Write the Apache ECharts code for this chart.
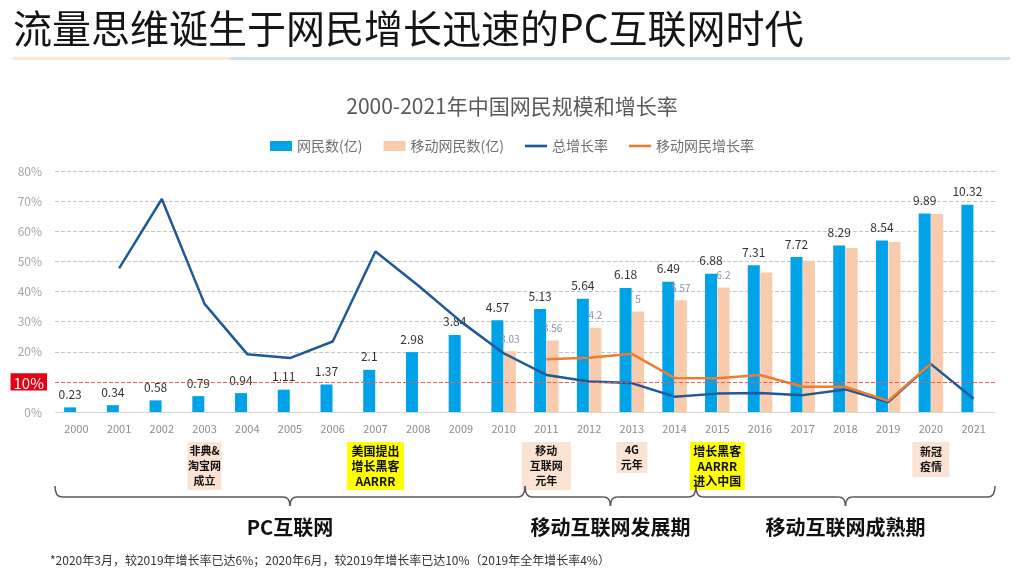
<!DOCTYPE html>
<html>
<head>
<meta charset="utf-8">
<script src="https://cdn.jsdelivr.net/npm/echarts@6/dist/echarts.min.js"></script>
<style>html,body{margin:0;padding:0;background:#fff}#c{width:1024px;height:576px}</style>
</head>
<body>
<div id="c"></div>
<script>
// ---------------- data ----------------
const years = ['2000','2001','2002','2003','2004','2005','2006','2007','2008','2009','2010','2011','2012','2013','2014','2015','2016','2017','2018','2019','2020','2021'];
const netizens = [0.23,0.34,0.58,0.79,0.94,1.11,1.37,2.1,2.98,3.84,4.57,5.13,5.64,6.18,6.49,6.88,7.31,7.72,8.29,8.54,9.89,10.32];
const mobileUsers = [null,null,null,null,null,null,null,null,null,null,3.03,3.56,4.2,5,5.57,6.2,6.95,7.53,8.17,8.47,9.86,null];
const mobileLabelLast = '2015';
const totalGrowth = [null,47.7,70.7,35.9,19.2,17.9,23.4,53.3,42.0,30.0,19.5,12.3,10.1,9.6,5.1,6.1,6.3,5.6,7.5,3.3,15.9,4.4];
const mobileGrowth = [null,null,null,null,null,null,null,null,null,null,null,17.5,18.0,19.3,11.3,11.2,12.3,8.4,8.4,3.7,16.0,null];
const seriesNames = ['网民数(亿)','移动网民数(亿)','总增长率','移动网民增长率'];
const events = [
  {year:'2003', text:'非典&\n淘宝网\n成立', kind:'peach'},
  {year:'2007', text:'美国提出\n增长黑客\nAARRR', kind:'yellow'},
  {year:'2011', text:'移动\n互联网\n元年', kind:'peach'},
  {year:'2013', text:'4G\n元年', kind:'peach'},
  {year:'2015', text:'增长黑客\nAARRR\n进入中国', kind:'yellow'},
  {year:'2020', text:'新冠\n疫情', kind:'peach'}
];
const phases = [
  {name:'PC互联网', from:'2000', to:'2010'},
  {name:'移动互联网发展期', from:'2011', to:'2014'},
  {name:'移动互联网成熟期', from:'2015', to:'2021'}
];
const pageTitle = '流量思维诞生于网民增长迅速的PC互联网时代';
const chartTitle = '2000-2021年中国网民规模和增长率';
const footnote = '*2020年3月，较2019年增长率已达6%；2020年6月，较2019年增长率已达10%（2019年全年增长率4%）';

// ---------------- layout / style ----------------
const FONT = "'Noto Sans CJK SC','Noto Sans',sans-serif";
const boxW = [34,57,49,31,55,37];
const boxH = [48,48,48,31,48,35];
const boxFill = {peach:'#fbe3d3', yellow:'#ffff00'};
const boxFont = {peach:11, yellow:12};
const lineIcon = 'path://M0,0H20V2.4H0Z';

const chart = echarts.init(document.getElementById('c'));
chart.setOption({
  animation:false,
  textStyle:{fontFamily:FONT},
  title:{text:chartTitle, left:'center', top:91, textStyle:{fontSize:21, fontWeight:'normal', color:'#595959', fontFamily:FONT}},
  legend:{
    top:134, left:'center', itemWidth:22, itemHeight:10, itemGap:21,
    textStyle:{color:'#707070', fontSize:14, fontFamily:FONT},
    data:[{name:seriesNames[0], icon:'rect'},{name:seriesNames[1], icon:'rect'},
          {name:seriesNames[2], icon:lineIcon},{name:seriesNames[3], icon:lineIcon}]
  },
  grid:{left:55, right:29, top:171, bottom:164},
  xAxis:[{
    type:'category', data:years,
    axisLine:{lineStyle:{color:'#d9d9d9'}}, axisTick:{show:false},
    axisLabel:{color:'#8c8c8c', fontSize:11, margin:11}
  }],
  yAxis:[{
    type:'value', min:0, max:80, interval:10,
    axisLine:{show:false}, axisTick:{show:false},
    splitLine:{lineStyle:{type:'dashed', color:'#c4c4c4'}},
    axisLabel:{
      margin:8,
      formatter:v => v === 10 ? '{r|10%}' : '{n|' + v + '%}',
      rich:{
        n:{fontSize:12, color:'#a6a6a6', padding:[0,5,0,0], fontFamily:FONT},
        r:{fontSize:15, color:'#fff', backgroundColor:'#e50012', padding:[2,3,0,3], fontFamily:FONT}
      }
    }
  },{
    type:'value', min:0, max:12, show:false, splitLine:{show:false}
  }],
  series:[{
    name:seriesNames[0], type:'bar', yAxisIndex:1, data:netizens,
    barWidth:12, barGap:'4%',
    itemStyle:{color:'#00a2e8'},
    label:{show:true, position:'top', distance:7, fontSize:12, color:'#333'}
  },{
    name:seriesNames[1], type:'bar', yAxisIndex:1, data:mobileUsers,
    barWidth:12, barGap:'4%',
    itemStyle:{color:'#f8cbad'},
    label:{show:true, position:'top', distance:7, fontSize:10, color:'#8a8fa6',
      formatter:p => (p.dataIndex <= years.indexOf(mobileLabelLast) ? String(p.value) : '')}
  },{
    name:seriesNames[2], type:'line', yAxisIndex:0, data:totalGrowth,
    symbol:'none', lineStyle:{color:'#1f5a96', width:2.5}, itemStyle:{color:'#1f5a96'},
    markLine:{silent:true, symbol:'none', label:{show:false},
      lineStyle:{color:'#e06060', type:'dashed', width:1}, data:[{yAxis:10}]}
  },{
    name:seriesNames[3], type:'line', yAxisIndex:0, data:mobileGrowth,
    symbol:'none', lineStyle:{color:'#ed7d31', width:2.5}, itemStyle:{color:'#ed7d31'}
  }]
});

// ---------------- graphics (positions from the axis) ----------------
const cx = y => chart.convertToPixel({xAxisIndex:0}, y);
const band = cx(years[1]) - cx(years[0]);
const g = [];
g.push({type:'text', style:{text:pageTitle, x:13, y:28, textVerticalAlign:'middle', verticalAlign:'middle', font:'39px ' + FONT, fill:'#151515'}});
g.push({type:'rect', shape:{x:13, y:57, width:217, height:3}, style:{fill:'#fde7cf'}});
g.push({type:'rect', shape:{x:230, y:57, width:780, height:3}, style:{fill:'#d0dfec'}});

events.forEach((ev, i) => {
  const x = cx(ev.year), w = boxW[i], h = boxH[i], top = 442;
  g.push({type:'rect', shape:{x:x - w/2, y:top, width:w, height:h}, style:{fill:boxFill[ev.kind]}});
  g.push({type:'text', style:{text:ev.text, x:x, y:top + h/2, textAlign:'center', align:'center',
    textVerticalAlign:'middle', verticalAlign:'middle', lineHeight:15,
    font:'bold ' + boxFont[ev.kind] + 'px ' + FONT, fill:'#111'}});
});

const yT = 486, yL = 497, yC = 506, r = 7;
const stroke = {stroke:'#595959', lineWidth:1.5, fill:null};
phases.forEach(ph => {
  const x1 = cx(ph.from) - band/2, x2 = cx(ph.to) + band/2, xm = (x1 + x2)/2;
  g.push({type:'bezierCurve', shape:{x1:x1, y1:yT, x2:x1 + r, y2:yL, cpx1:x1, cpy1:yL}, style:stroke});
  g.push({type:'line', shape:{x1:x1 + r, y1:yL, x2:xm - r, y2:yL}, style:stroke});
  g.push({type:'bezierCurve', shape:{x1:xm - r, y1:yL, x2:xm, y2:yC, cpx1:xm, cpy1:yL}, style:stroke});
  g.push({type:'bezierCurve', shape:{x1:xm + r, y1:yL, x2:xm, y2:yC, cpx1:xm, cpy1:yL}, style:stroke});
  g.push({type:'line', shape:{x1:xm + r, y1:yL, x2:x2 - r, y2:yL}, style:stroke});
  g.push({type:'bezierCurve', shape:{x1:x2 - r, y1:yL, x2:x2, y2:yT, cpx1:x2, cpy1:yL}, style:stroke});
  g.push({type:'text', style:{text:ph.name, x:xm, y:527, textAlign:'center', align:'center',
    textVerticalAlign:'middle', verticalAlign:'middle', font:'bold 20px ' + FONT, fill:'#111'}});
});

g.push({type:'text', style:{text:footnote, x:50, y:560, textVerticalAlign:'middle', verticalAlign:'middle', font:'12px ' + FONT, fill:'#333'}});

chart.setOption({graphic:{elements:g}});
</script>
</body>
</html>
